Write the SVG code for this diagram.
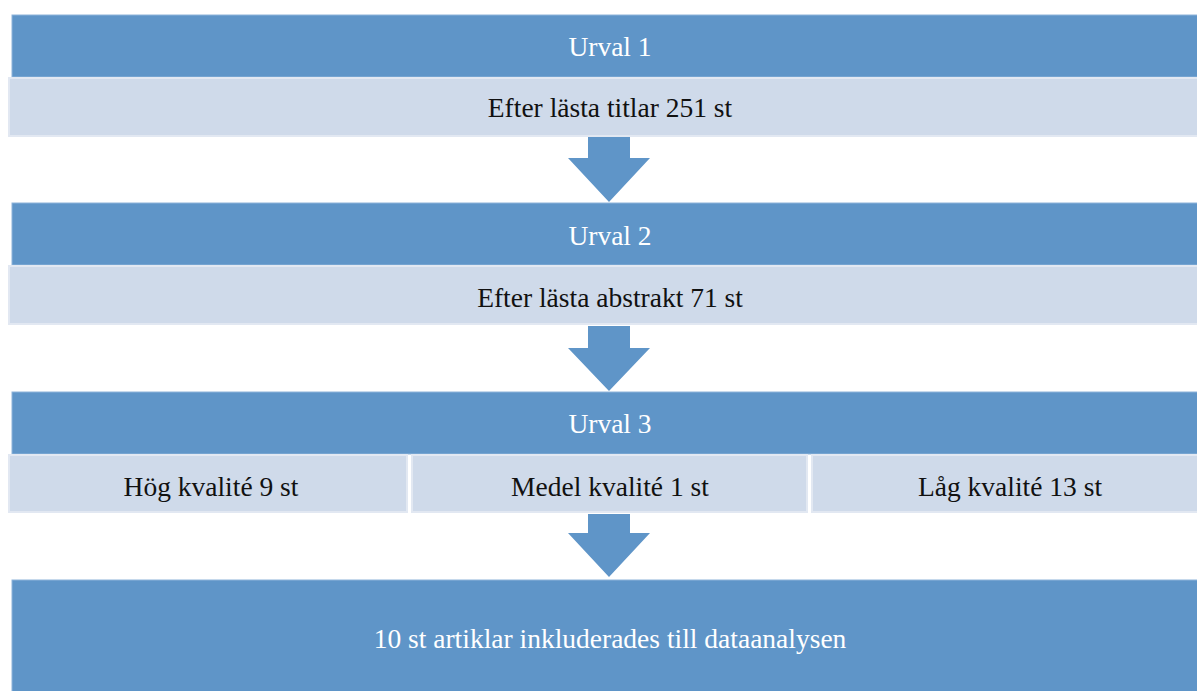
<svg xmlns="http://www.w3.org/2000/svg" width="1197" height="691" viewBox="0 0 1197 691">
<style>
.hdr{fill:#5F95C8;stroke:#8DB3DA;stroke-width:1}
.sub{fill:#CFDAEA;stroke:#E2E8F2;stroke-width:2}
.arr{fill:#5F95C8}
text{font-family:'Liberation Serif','Times New Roman',serif;font-size:27.5px;text-anchor:middle}
.w{fill:#FFFFFF}
.k{fill:#111111}
</style>
<rect width="1197" height="691" fill="#FFFFFF"/>
<g id="urval1">
<rect class="hdr" x="12" y="15" width="1200" height="62"/>
<text class="w" x="610" y="56">Urval 1</text>
</g>
<g id="titlar">
<rect class="sub" x="9" y="78" width="1200" height="58"/>
<text class="k" x="610" y="117">Efter lästa titlar 251 st</text>
</g>
<g id="urval2">
<rect class="hdr" x="12" y="203" width="1200" height="62"/>
<text class="w" x="610" y="245">Urval 2</text>
</g>
<g id="abstrakt">
<rect class="sub" x="9" y="266" width="1200" height="58"/>
<text class="k" x="610" y="307">Efter lästa abstrakt 71 st</text>
</g>
<g id="urval3">
<rect class="hdr" x="12" y="392" width="1200" height="62"/>
<text class="w" x="610" y="433">Urval 3</text>
</g>
<g id="hog">
<rect class="sub" x="9" y="455" width="398" height="57"/>
<text class="k" x="211" y="496">Hög kvalité 9 st</text>
</g>
<g id="medel">
<rect class="sub" x="412" y="455" width="395" height="57"/>
<text class="k" x="610" y="496">Medel kvalité 1 st</text>
</g>
<g id="lag">
<rect class="sub" x="812" y="455" width="395" height="57"/>
<text class="k" x="1010" y="496">Låg kvalité 13 st</text>
</g>
<g id="resultat">
<rect class="hdr" x="12" y="580" width="1200" height="120"/>
<text class="w" x="610" y="648">10 st artiklar inkluderades till dataanalysen</text>
</g>
<g id="connectors">
<polygon class="arr" points="588,137 630,137 630,158 650,158 609,202 568,158 588,158"/>
<polygon class="arr" points="588,326 630,326 630,348 650,348 609,391 568,348 588,348"/>
<polygon class="arr" points="588,514 630,514 630,533 650,533 609,577 568,533 588,533"/>
</g>
</svg>
